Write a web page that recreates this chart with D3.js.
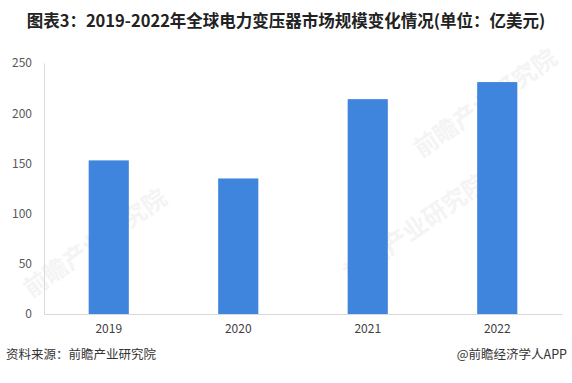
<!DOCTYPE html>
<html>
<head>
<meta charset="utf-8">
<script src="https://d3js.org/d3.v7.min.js"></script>
<style>
  body { margin: 0; background: #fff; }
  svg text { font-family: "Noto Sans CJK SC", "Microsoft YaHei", sans-serif; }
</style>
</head>
<body>
<div class="wrapper"></div>
<script>
// data (亿美元)
var years = ["2019", "2020", "2021", "2022"];
var marketSize = [153, 135, 214, 231];
var yTicks = [0, 50, 100, 150, 200, 250];

var W = 572, H = 383;
var margin = {top: 63, right: 10, bottom: 69, left: 44};

var svg = d3.select(".wrapper")
  .append("svg")
  .attr("width", W)
  .attr("height", H);

// faint watermarks
var marks = [[490, 110], [100, 250], [420, 235]];
svg.selectAll("wm")
  .data(marks).enter()
  .append("text")
  .attr("transform", function(d) { return "translate(" + d[0] + "," + d[1] + ") rotate(-35)"; })
  .attr("text-anchor", "middle")
  .style("font-size", "24px")
  .style("font-weight", "bold")
  .style("fill", "#f4f4f4")
  .text("前瞻产业研究院");

// title
svg.append("text")
  .attr("x", W / 2)
  .attr("y", 27)
  .attr("text-anchor", "middle")
  .style("font-size", "16.5px")
  .style("font-weight", "bold")
  .style("fill", "#222")
  .text("图表3：2019-2022年全球电力变压器市场规模变化情况(单位：亿美元)");

// scales
var x = d3.scaleBand()
  .domain(years)
  .range([margin.left, W - margin.right])
  .paddingInner(0.69)
  .paddingOuter(0.345);

var y = d3.scaleLinear()
  .domain([0, 250])
  .range([H - margin.bottom, margin.top]);

// y axis
var yAxis = svg.append("g")
  .attr("transform", "translate(" + margin.left + ",0)")
  .call(d3.axisLeft(y).tickValues(yTicks).tickSize(0).tickPadding(12));
yAxis.select(".domain").attr("stroke", "#d9d9d9");
yAxis.selectAll("text")
  .style("font-size", "12px")
  .style("fill", "#595959");

// bars
svg.selectAll("bar")
  .data(marketSize).enter()
  .append("rect")
  .attr("x", function(d, i) { return x(years[i]); })
  .attr("width", x.bandwidth())
  .attr("y", function(d) { return y(d); })
  .attr("height", function(d) { return y(0) - y(d); })
  .style("fill", "#3f85de");

// x axis
var xAxis = svg.append("g")
  .attr("transform", "translate(0," + y(0) + ")")
  .call(d3.axisBottom(x).tickSize(0).tickPadding(10));
xAxis.select(".domain").attr("stroke", "#d9d9d9");
xAxis.selectAll("text")
  .style("font-size", "12px")
  .style("fill", "#404040");

// footer
svg.append("text")
  .attr("x", 6)
  .attr("y", 359)
  .style("font-size", "12.5px")
  .style("fill", "#333")
  .text("资料来源：前瞻产业研究院");

svg.append("text")
  .attr("x", W - 5)
  .attr("y", 359)
  .attr("text-anchor", "end")
  .style("font-size", "12.5px")
  .style("fill", "#333")
  .text("@前瞻经济学人APP");
</script>
</body>
</html>
